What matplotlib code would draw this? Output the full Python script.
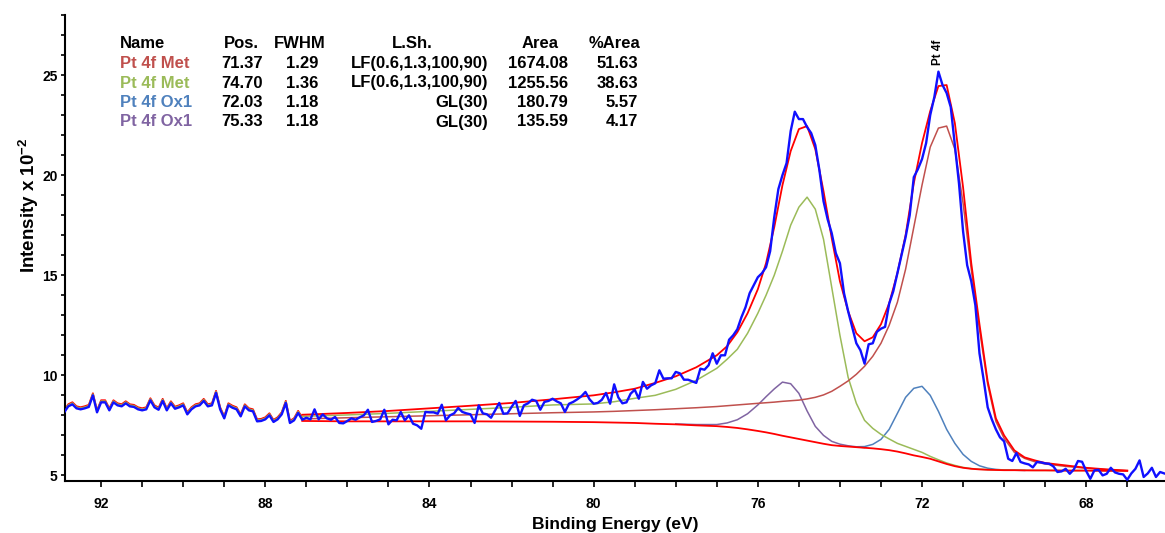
"""
Pt 4f XPS spectrum with component fit (CasaXPS style)
"""

import numpy as np
import matplotlib
matplotlib.use('Agg')
import matplotlib.pyplot as plt
import matplotlib.transforms as mtransforms
from matplotlib.ticker import MultipleLocator

# raw counts (x 10^2), 0.1 eV steps from 92.9 eV down to 66.1 eV
counts = [
    8.15, 8.45, 8.55, 8.35, 8.30, 8.35, 8.42, 9.00, 8.15, 8.65,   # 92.9 - 92.0
    8.65, 8.25, 8.65, 8.50, 8.45, 8.60, 8.45, 8.42, 8.30, 8.25,   # 91.9 - 91.0
    8.30, 8.75, 8.40, 8.28, 8.72, 8.25, 8.60, 8.33, 8.40, 8.50,   # 90.9 - 90.0
    8.05, 8.30, 8.45, 8.50, 8.72, 8.45, 8.50, 9.12, 8.30, 7.85,   # 89.9 - 89.0
    8.50, 8.38, 8.30, 7.95, 8.45, 8.25, 8.20, 7.70, 7.72, 7.80,   # 88.9 - 88.0
    8.00, 7.67, 7.80, 8.05, 8.62, 7.62, 7.75, 8.12, 7.78, 7.88,   # 87.9 - 87.0
    7.80, 8.30, 7.80, 8.05, 7.85, 7.78, 7.92, 7.62, 7.60, 7.72,   # 86.9 - 86.0
    7.85, 7.78, 7.90, 8.00, 8.28, 7.67, 7.72, 7.80, 8.28, 7.55,   # 85.9 - 85.0
    7.78, 7.75, 8.17, 7.75, 8.00, 7.58, 7.50, 7.33, 8.17, 8.15,   # 84.9 - 84.0
    8.15, 8.08, 8.53, 7.75, 8.00, 8.10, 8.37, 8.17, 8.10, 8.05,   # 83.9 - 83.0
    7.62, 8.50, 8.10, 8.05, 7.88, 8.25, 8.62, 8.08, 8.10, 8.42,   # 82.9 - 82.0
    8.72, 7.97, 8.50, 8.60, 8.78, 8.72, 8.28, 8.67, 8.72, 8.83,   # 81.9 - 81.0
    8.70, 8.60, 8.17, 8.58, 8.67, 8.80, 8.95, 9.17, 8.80, 8.58,   # 80.9 - 80.0
    8.62, 8.78, 9.12, 8.58, 9.55, 8.90, 8.60, 8.65, 9.08, 9.28,   # 79.9 - 79.0
    8.83, 9.67, 9.33, 9.50, 9.60, 10.25, 9.83, 9.85, 9.85, 10.17,  # 78.9 - 78.0
    10.10, 9.78, 9.78, 9.70, 9.62, 10.33, 10.28, 10.50, 11.10, 10.58,  # 77.9 - 77.0
    11.00, 11.00, 11.78, 12.00, 12.30, 12.90, 13.40, 14.10, 14.50, 14.90,  # 76.9 - 76.0
    15.10, 15.40, 16.20, 17.90, 19.30, 20.00, 20.60, 22.20, 23.17, 22.80,  # 75.9 - 75.0
    22.80, 22.40, 22.10, 21.50, 20.25, 18.70, 17.80, 17.10, 16.10, 15.60,  # 74.9 - 74.0
    14.10, 13.20, 12.40, 11.60, 11.25, 10.58, 11.55, 11.60, 12.17, 12.33,  # 73.9 - 73.0
    12.42, 13.58, 14.20, 15.10, 16.00, 16.90, 18.00, 19.90, 20.30, 20.80,  # 72.9 - 72.0
    21.60, 23.00, 23.90, 25.17, 24.50, 24.10, 23.40, 21.50, 19.60, 17.20,  # 71.9 - 71.0
    15.50, 14.70, 13.50, 11.10, 9.80, 8.40, 7.80, 7.30, 6.90, 6.70,   # 70.9 - 70.0
    5.83, 5.72, 6.12, 5.67, 5.60, 5.55, 5.40, 5.67, 5.65, 5.60,   # 69.9 - 69.0
    5.58, 5.45, 5.17, 5.20, 5.33, 5.08, 5.30, 5.72, 5.68, 5.22,   # 68.9 - 68.0
    4.83, 5.25, 5.28, 5.00, 5.08, 5.38, 5.15, 5.08, 5.05, 4.78,   # 67.9 - 67.0
    5.10, 5.33, 5.75, 4.92, 5.10, 5.38, 4.92, 5.17, 5.10,         # 66.9 - 66.1
]
energy_start, energy_end = 92.9, 66.1

# fit region curves
fit_energy = [87.1, 86.0, 85.0, 84.0, 83.0, 82.0, 81.0, 80.0,
              79.5, 79.0, 78.5, 78.0, 77.5, 77.0,
              76.75, 76.5, 76.25, 76.0,
              75.8, 75.6, 75.4, 75.2, 75.0,
              74.8, 74.6, 74.4, 74.2, 74.0,
              73.8, 73.6, 73.4, 73.2, 73.0,
              72.8, 72.6, 72.4, 72.2, 72.0,
              71.8, 71.6, 71.4, 71.2, 71.0,
              70.8, 70.6, 70.4, 70.2, 70.0,
              69.75, 69.5, 69.25, 69.0,
              68.5, 68.0, 67.5, 67.0]
background = [7.72, 7.70, 7.70, 7.70, 7.70, 7.69, 7.68, 7.66,
              7.64, 7.62, 7.58, 7.55, 7.50, 7.46,
              7.42, 7.37, 7.30, 7.22,
              7.15, 7.07, 6.98, 6.90, 6.82,
              6.74, 6.66, 6.58, 6.51, 6.47,
              6.44, 6.41, 6.38, 6.35, 6.31,
              6.26, 6.19, 6.10, 6.00, 5.92,
              5.83, 5.70, 5.57, 5.46, 5.38,
              5.33, 5.30, 5.28, 5.27, 5.26,
              5.26, 5.25, 5.25, 5.25,
              5.24, 5.24, 5.23, 5.23]
envelope = [8.03, 8.12, 8.22, 8.35, 8.48, 8.62, 8.80, 9.00,
            9.15, 9.33, 9.62, 9.95, 10.40, 11.00,
            11.45, 12.15, 13.10, 14.30,
            15.60, 17.40, 19.50, 21.20, 22.30,
            22.45, 21.30, 19.20, 16.85, 14.70,
            13.20, 12.10, 11.70, 11.90, 12.55,
            13.60, 15.10, 17.00, 19.60, 21.60,
            23.20, 24.45, 24.50, 22.60, 19.40,
            15.60, 12.55, 9.70, 7.85, 7.00,
            6.25, 5.90, 5.75, 5.62,
            5.50, 5.38, 5.30, 5.24]
met_a = [7.95, 8.02, 8.10, 8.20, 8.30, 8.40, 8.52, 8.57,       # Pt 4f Met 74.70
         8.68, 8.85, 9.00, 9.30, 9.75, 10.35,
         10.80, 11.30, 12.10, 13.10,
         14.00, 15.00, 16.20, 17.50, 18.40,
         18.90, 18.30, 16.80, 14.40, 12.00,
         9.90, 8.60, 7.75, 7.35, 7.05,
         6.82, 6.60, 6.45, 6.30, 6.15,
         5.95, 5.78, 5.62, 5.50, 5.40,
         5.34, 5.31, 5.29, 5.28, 5.27,
         5.26, 5.26, 5.25, 5.25,
         5.24, 5.24, 5.23, 5.23]
met_b = [7.82, 7.88, 7.93, 7.98, 8.03, 8.08, 8.13, 8.17,       # Pt 4f Met 71.37
         8.20, 8.24, 8.28, 8.33, 8.38, 8.44,
         8.48, 8.52, 8.56, 8.60,
         8.63, 8.66, 8.70, 8.73, 8.76,
         8.82, 8.90, 9.02, 9.20, 9.45,
         9.72, 10.05, 10.45, 10.95, 11.60,
         12.50, 13.65, 15.30, 17.40, 19.50,
         21.40, 22.35, 22.45, 21.30, 18.60,
         15.30, 12.30, 9.55, 7.70, 6.85,
         6.15, 5.85, 5.68, 5.57,
         5.45, 5.36, 5.29, 5.23]
ox_a_energy = [78.0, 77.5, 77.0, 76.75, 76.5, 76.25, 76.0, 75.8, 75.6, 75.4,
               75.2, 75.0, 74.8, 74.6, 74.4, 74.2, 74.0, 73.8, 73.6, 73.4]
ox_a = [7.57, 7.54, 7.54, 7.62, 7.78, 8.08, 8.52, 8.93, 9.32, 9.66,   # Pt 4f Ox1 75.33
        9.58, 9.10, 8.22, 7.45, 7.00, 6.70, 6.56, 6.48, 6.43, 6.39]
ox_b_energy = [73.6, 73.4, 73.2, 73.0, 72.8, 72.6, 72.4, 72.2, 72.0, 71.8, 71.6,
               71.4, 71.2, 71.0, 70.8, 70.6, 70.4, 70.2, 70.0, 69.75, 69.5]
ox_b = [6.43, 6.44, 6.55, 6.80, 7.30, 8.10, 8.90, 9.35, 9.45, 9.00, 8.20,   # Pt 4f Ox1 72.03
        7.30, 6.60, 6.05, 5.70, 5.48, 5.36, 5.30, 5.27, 5.26, 5.25]

# peak table
table_names = ['Pt 4f Met', 'Pt 4f Met', 'Pt 4f Ox1', 'Pt 4f Ox1']
table_pos = ['71.37', '74.70', '72.03', '75.33']
table_fwhm = ['1.29', '1.36', '1.18', '1.18']
table_lsh = ['LF(0.6,1.3,100,90)', 'LF(0.6,1.3,100,90)', 'GL(30)', 'GL(30)']
table_area = ['1674.08', '1255.56', '180.79', '135.59']
table_pct = ['51.63', '38.63', '5.57', '4.17']

x_ticks = [92, 88, 84, 80, 76, 72, 68]
y_ticks = [5, 10, 15, 20, 25]

RED = '#FF0000'
DATA_BLUE = '#1010FF'
C_MET_B = '#C0504D'
C_MET_A = '#9BBB59'
C_OX_B = '#4F81BD'
C_OX_A = '#8064A2'

plt.rcParams['font.family'] = ['Liberation Sans', 'DejaVu Sans']
plt.rcParams['font.weight'] = 'bold'
plt.rcParams['mathtext.fontset'] = 'custom'
plt.rcParams['mathtext.rm'] = 'Liberation Sans:bold'
plt.rcParams['mathtext.bf'] = 'Liberation Sans:bold'
plt.rcParams['mathtext.default'] = 'bf'

W, H = 1165, 533
fig = plt.figure(figsize=(W / 100, H / 100), dpi=100)
ax = fig.add_axes([65 / W, 1 - 481 / H, 1 - 65 / W, (481 - 15) / H])


def px(x, y):
    return x / W, 1 - y / H


energy = np.linspace(energy_start, energy_end, len(counts))
counts = np.array(counts)

# coloured copies of the data left of the fit region
left = energy >= fit_energy[0] - 1e-6
up2 = mtransforms.offset_copy(ax.transData, fig=fig, x=0, y=1.5, units='points')
up1 = mtransforms.offset_copy(ax.transData, fig=fig, x=0, y=0.8, units='points')
ax.plot(energy[left], counts[left], color=RED, lw=1.3, transform=up2, zorder=2)
ax.plot(energy[left], counts[left], color=C_MET_A, lw=1.3, transform=up1, zorder=2)

# components
ax.plot(ox_a_energy, ox_a, color=C_OX_A, lw=1.1, zorder=3)
ax.plot(ox_b_energy, ox_b, color=C_OX_B, lw=1.1, zorder=3)
ax.plot(fit_energy, met_a, color=C_MET_A, lw=1.1, zorder=3)
ax.plot(fit_energy, met_b, color=C_MET_B, lw=1.1, zorder=3)
ax.plot(fit_energy, background, color=RED, lw=1.3, zorder=4)
ax.plot(fit_energy, envelope, color=RED, lw=1.3, zorder=4)

# measured data
ax.plot(energy, counts, color=DATA_BLUE, lw=1.7, zorder=5)

# peak label over the highest data point
i_max = int(np.argmax(counts))
ax.annotate('Pt 4f', xy=(energy[i_max], counts[i_max]), xytext=(0, 5),
            textcoords='offset points', rotation=90, ha='center', va='bottom',
            fontsize=8.5, fontweight='bold')

ax.set_xlim(92.88, 66.08)
ax.set_ylim(4.72, 28.0)
ax.set_xticks(x_ticks)
ax.set_yticks(y_ticks)
ax.xaxis.set_minor_locator(MultipleLocator(1))
ax.yaxis.set_minor_locator(MultipleLocator(1))
ax.tick_params(axis='x', which='both', direction='out', length=4.5, width=1.2,
               pad=7, labelsize=10)
ax.tick_params(axis='y', which='both', direction='out', length=3.2, width=1.2,
               pad=2, labelsize=10)
for lab in ax.get_xticklabels() + ax.get_yticklabels():
    lab.set_fontweight('bold')
for s in ['top', 'right']:
    ax.spines[s].set_visible(False)
for s in ['left', 'bottom']:
    ax.spines[s].set_linewidth(1.5)
ax.patch.set_visible(False)

fig.text(*px(29, 205), r'Intensity x 10$^{-2}$', rotation=90, ha='center',
         va='center', fontsize=13.5, fontweight='bold')
fig.text(*px(615, 529), 'Binding Energy (eV)', ha='center', va='baseline',
         fontsize=12.5, fontweight='bold')

# peak table
fs = 12
row_y = [44, 63.5, 83, 102.5, 122]
fig.text(*px(120, row_y[0]), 'Name', ha='left', va='center', fontsize=fs)
fig.text(*px(259, row_y[0]), 'Pos.', ha='right', va='center', fontsize=fs)
fig.text(*px(300, row_y[0]), 'FWHM', ha='center', va='center', fontsize=fs)
fig.text(*px(412, row_y[0]), 'L.Sh.', ha='center', va='center', fontsize=fs)
fig.text(*px(540, row_y[0]), 'Area', ha='center', va='center', fontsize=fs)
fig.text(*px(640, row_y[0]), '%Area', ha='right', va='center', fontsize=fs)
row_colors = [C_MET_B, C_MET_A, C_OX_B, C_OX_A]
for i in range(len(table_names)):
    y = row_y[i + 1]
    fig.text(*px(120, y), table_names[i], ha='left', va='center', fontsize=fs,
             color=row_colors[i])
    fig.text(*px(263, y), table_pos[i], ha='right', va='center', fontsize=fs)
    fig.text(*px(302, y), table_fwhm[i], ha='center', va='center', fontsize=fs)
    fig.text(*px(488, y), table_lsh[i], ha='right', va='center', fontsize=fs)
    fig.text(*px(568, y), table_area[i], ha='right', va='center', fontsize=fs)
    fig.text(*px(638, y), table_pct[i], ha='right', va='center', fontsize=fs)

fig.savefig('out.png', dpi=100)
